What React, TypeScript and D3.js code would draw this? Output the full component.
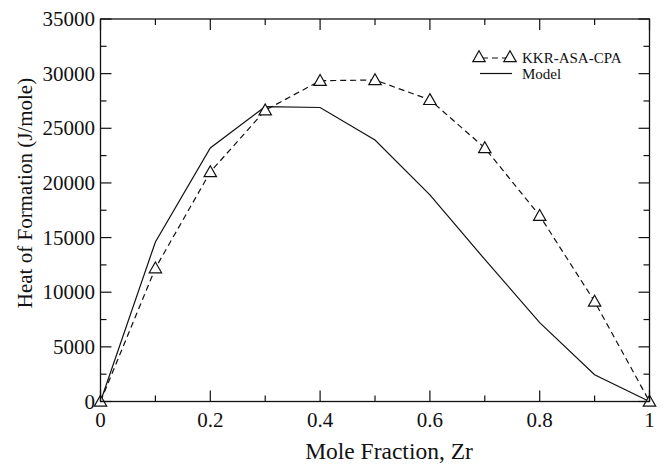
import React from "react";
import * as d3 from "d3";

const xValues = [0, 0.1, 0.2, 0.3, 0.4, 0.5, 0.6, 0.7, 0.8, 0.9, 1];
const kkrValues = [0, 12200, 21000, 26650, 29350, 29420, 27600, 23200, 17000, 9150, 0];
const modelValues = [0, 14600, 23200, 26980, 26900, 23930, 18900, 13000, 7220, 2450, 0];
const xTicks = [0, 0.2, 0.4, 0.6, 0.8, 1];
const xMinorTicks = [0.1, 0.3, 0.5, 0.7, 0.9];
const yTicks = [0, 5000, 10000, 15000, 20000, 25000, 30000, 35000];
const yMinorTicks = [2500, 7500, 12500, 17500, 22500, 27500, 32500];
const legendLabels = ["KKR-ASA-CPA", "Model"];

const W = 666, H = 466;
const L = 100.5, R = 649.5, T = 19, B = 401.5;
const font = "'Liberation Serif', 'Times New Roman', serif";

function Tri({ x, y }: { x: number; y: number }) {
  const s = 6.2;
  return (
    <path
      d={`M${x},${y - s} L${x + s},${y + s * 0.75} L${x - s},${y + s * 0.75} Z`}
      fill="white"
      stroke="#111"
      strokeWidth={1.2}
    />
  );
}

export default function App() {
  const x = d3.scaleLinear().domain([0, 1]).range([L, R]);
  const y = d3.scaleLinear().domain([0, 35000]).range([B, T]);
  const line = d3.line<number>().x((_, i) => x(xValues[i])).y((d) => y(d));
  const maj = 11, min = 6;
  return (
    <svg width={W} height={H} style={{ position: "absolute", left: 0, top: 0 }} fontFamily={font}>
      <rect x={0} y={0} width={W} height={H} fill="white" />
      {/* data */}
      <path d={line(modelValues) || ""} fill="none" stroke="#111" strokeWidth={1.2} />
      <path d={line(kkrValues) || ""} fill="none" stroke="#111" strokeWidth={1.2} strokeDasharray="6,4" />
      {kkrValues.map((v, i) => (
        <Tri key={i} x={x(xValues[i])} y={y(v)} />
      ))}
      {/* frame */}
      <rect x={L} y={T} width={R - L} height={B - T} fill="none" stroke="#111" strokeWidth={1.3} />
      {/* x ticks */}
      {xTicks.map((t) => (
        <g key={"xt" + t}>
          <line x1={x(t)} x2={x(t)} y1={B} y2={B - maj} stroke="#111" strokeWidth={1.2} />
          <line x1={x(t)} x2={x(t)} y1={T} y2={T + maj} stroke="#111" strokeWidth={1.2} />
          <text x={x(t)} y={427} textAnchor="middle" fontSize={21} fill="#111">
            {String(t)}
          </text>
        </g>
      ))}
      {xMinorTicks.map((t) => (
        <g key={"xm" + t}>
          <line x1={x(t)} x2={x(t)} y1={B} y2={B - min} stroke="#111" strokeWidth={1.2} />
          <line x1={x(t)} x2={x(t)} y1={T} y2={T + min} stroke="#111" strokeWidth={1.2} />
        </g>
      ))}
      {/* y ticks */}
      {yTicks.map((t) => (
        <g key={"yt" + t}>
          <line x1={L} x2={L + maj} y1={y(t)} y2={y(t)} stroke="#111" strokeWidth={1.2} />
          <line x1={R} x2={R - maj} y1={y(t)} y2={y(t)} stroke="#111" strokeWidth={1.2} />
          <text x={95} y={y(t) + 7} textAnchor="end" fontSize={21} fill="#111">
            {String(t)}
          </text>
        </g>
      ))}
      {yMinorTicks.map((t) => (
        <g key={"ym" + t}>
          <line x1={L} x2={L + min} y1={y(t)} y2={y(t)} stroke="#111" strokeWidth={1.2} />
          <line x1={R} x2={R - min} y1={y(t)} y2={y(t)} stroke="#111" strokeWidth={1.2} />
        </g>
      ))}
      {/* axis titles */}
      <text x={389} y={459} textAnchor="middle" fontSize={23.5} fill="#111">
        Mole Fraction, Zr
      </text>
      <text
        transform={`translate(32,193) rotate(-90)`}
        textAnchor="middle"
        fontSize={21}
        fill="#111"
      >
        Heat of Formation (J/mole)
      </text>
      {/* legend */}
      <line x1={479} x2={510} y1={58} y2={58} stroke="#111" strokeWidth={1.2} strokeDasharray="6,4" strokeDashoffset={-3} />
      <Tri x={479} y={57} />
      <Tri x={510} y={57} />
      <text x={522} y={62.5} fontSize={15} fill="#111">{legendLabels[0]}</text>
      <line x1={480} x2={512} y1={73.5} y2={73.5} stroke="#111" strokeWidth={1.2} />
      <text x={522} y={79} fontSize={15} fill="#111">{legendLabels[1]}</text>
    </svg>
  );
}
